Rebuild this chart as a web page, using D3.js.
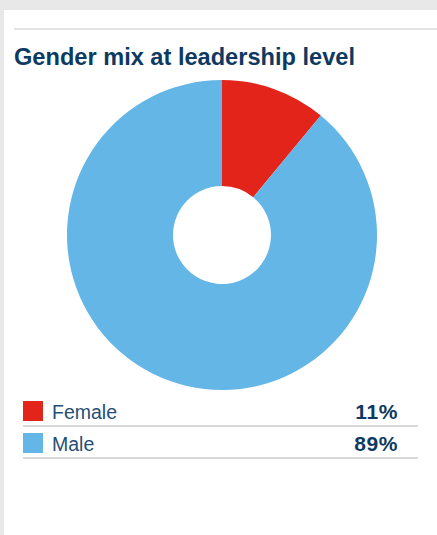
<!DOCTYPE html>
<html>
<head>
<meta charset="utf-8">
<script src="https://cdn.jsdelivr.net/npm/d3@7/dist/d3.min.js"></script>
<style>
  html, body { margin: 0; padding: 0; background: #e8e8e8; }
  svg { display: block; }
</style>
</head>
<body>
<script>
// Leadership gender split
const categories = ["Female", "Male"];
const shares = [11, 89];
const valueLabels = ["11%", "89%"];
const colors = ["#e3241a", "#63b6e6"];

const W = 437, H = 535;
const svg = d3.select("body").append("svg").attr("width", W).attr("height", H);

// white card
svg.append("rect").attr("x", 4).attr("y", 10).attr("width", W - 4).attr("height", H - 10).attr("fill", "#ffffff");

// top rule
svg.append("line").attr("x1", 14).attr("x2", W).attr("y1", 29).attr("y2", 29)
  .attr("stroke", "#c8c8c8").attr("stroke-width", 1.2);

// title
svg.append("text").attr("x", 14).attr("y", 65)
  .attr("font-family", "Liberation Sans, Arial, sans-serif")
  .attr("font-weight", "bold").attr("font-size", 23.6)
  .attr("fill", "#0e3a62")
  .text("Gender mix at leadership level");

// donut
const cx = 222, cy = 235, outerR = 155, innerR = 49;
const pie = d3.pie().sort(null).value(d => d)(shares);
const arc = d3.arc().innerRadius(innerR).outerRadius(outerR);
svg.append("g").attr("transform", `translate(${cx},${cy})`)
  .selectAll("path").data(pie).join("path")
  .attr("d", arc)
  .attr("fill", (d, i) => colors[i]);

// legend table
const rowY = d3.scaleBand().domain(categories).range([399, 463]).paddingInner(0);
const leg = svg.append("g");
categories.forEach((c, i) => {
  const y0 = rowY(c);
  leg.append("rect").attr("x", 23).attr("y", y0 + 2).attr("width", 20).attr("height", 20).attr("fill", colors[i]);
  leg.append("text").attr("x", 52).attr("y", y0 + 20)
    .attr("font-family", "Liberation Sans, Arial, sans-serif")
    .attr("font-size", 19.5).attr("fill", "#254f75")
    .text(c);
  leg.append("text").attr("x", 398).attr("y", y0 + 20).attr("text-anchor", "end")
    .attr("font-family", "Liberation Sans, Arial, sans-serif")
    .attr("font-weight", "bold").attr("font-size", 21).attr("letter-spacing", 0.6)
    .attr("fill", "#0e3a62")
    .text(valueLabels[i]);
  leg.append("line").attr("x1", 23).attr("x2", 418)
    .attr("y1", y0 + 27).attr("y2", y0 + 27)
    .attr("stroke", "#b4b4b4").attr("stroke-width", 1.2);
});
</script>
</body>
</html>
